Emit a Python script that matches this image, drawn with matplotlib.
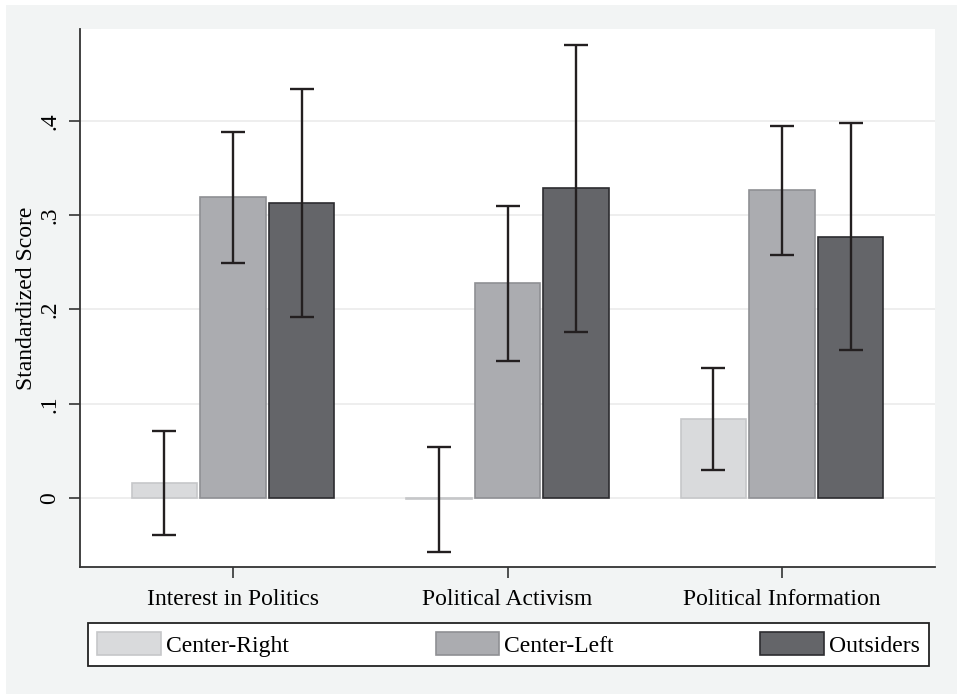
import matplotlib
matplotlib.use("Agg")
import matplotlib.pyplot as plt
import numpy as np
from matplotlib.patches import Rectangle

plt.rcParams['font.family'] = ['Liberation Serif', 'DejaVu Serif']

categories = ["Interest in Politics", "Political Activism", "Political Information"]
groups = ["Center-Right", "Center-Left", "Outsiders"]

# mean and 95% CI bounds
center_right = [0.016, -0.001, 0.084]
center_right_lo = [-0.039, -0.057, 0.030]
center_right_hi = [0.071, 0.054, 0.138]

center_left = [0.319, 0.228, 0.327]
center_left_lo = [0.249, 0.145, 0.258]
center_left_hi = [0.388, 0.310, 0.395]

outsiders = [0.313, 0.329, 0.277]
outsiders_lo = [0.192, 0.176, 0.157]
outsiders_hi = [0.434, 0.481, 0.398]

yticks = [0, 0.1, 0.2, 0.3, 0.4]
ytick_labels = ["0", ".1", ".2", ".3", ".4"]

fills = ["#d9dadc", "#abacb0", "#646569"]
edges = ["#c6c7c9", "#8f9094", "#2c2c30"]

fig = plt.figure(figsize=(9.57, 6.94), dpi=100)
fig.patch.set_facecolor("white")
# stata-style light panel behind everything
fig.patches.append(Rectangle((6 / 957, 0), 1, 1 - 5 / 694, transform=fig.transFigure,
                             facecolor="#f2f4f4", edgecolor="none", zorder=-10))

ax = fig.add_axes([80 / 957, (694 - 567) / 694, (935 - 80) / 957, (567 - 29) / 694])
ax.set_facecolor("white")

x = np.arange(len(categories))
width = 0.238
offsets = [-0.25, 0, 0.25]
means = [center_right, center_left, outsiders]
los = [center_right_lo, center_left_lo, outsiders_lo]
his = [center_right_hi, center_left_hi, outsiders_hi]

handles = []
for i in range(3):
    m = np.array(means[i])
    b = ax.bar(x + offsets[i], m, width, color=fills[i], edgecolor=edges[i],
               linewidth=1.2, zorder=2, label=groups[i])
    handles.append(b)
    err = [m - np.array(los[i]), np.array(his[i]) - m]
    ax.errorbar(x + offsets[i], m, yerr=err, fmt="none", ecolor="#231f20",
                elinewidth=1.7, capsize=8.5, capthick=1.7, zorder=3)

ax.set_xlim(-0.557, 2.557)
ax.set_ylim(-0.0732, 0.4976)
ax.set_yticks(yticks)
ax.set_yticklabels(ytick_labels, rotation=90, va="center", fontsize=17)
ax.set_xticks(x)
ax.set_xticklabels(categories, fontsize=17)
ax.tick_params(axis="both", length=8, width=1.2, color="#333333", pad=6)
ax.tick_params(axis="x", pad=8)
ax.set_ylabel("Standardized Score", fontsize=17, labelpad=2)

ax.grid(axis="y", color="#ebebeb", linewidth=1.2, zorder=0)
ax.set_axisbelow(True)
for s in ["top", "right"]:
    ax.spines[s].set_visible(False)
for s in ["left", "bottom"]:
    ax.spines[s].set_color("#333333")
    ax.spines[s].set_linewidth(1.3)

leg = fig.legend(handles=handles, labels=groups, ncol=3, mode="expand",
                 bbox_to_anchor=(88 / 957, 28 / 694, 841 / 957, 45 / 694),
                 loc="lower left", fontsize=17, frameon=True, fancybox=False,
                 framealpha=1, facecolor="white",
                 handlelength=2.7, handleheight=1.1, handletextpad=0.2,
                 borderaxespad=0, borderpad=0.4)
leg.get_frame().set_edgecolor("#222222")
leg.get_frame().set_linewidth(1.3)

fig.savefig("out.png", dpi=100, facecolor=fig.get_facecolor())
